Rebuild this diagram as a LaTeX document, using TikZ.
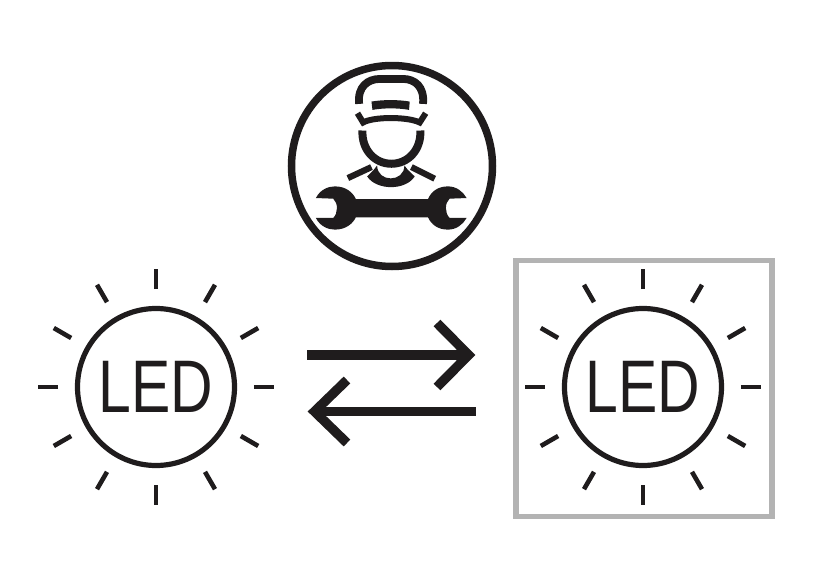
\documentclass[tikz,border=0pt]{standalone}
\usepackage{fontspec}
\setmainfont{Liberation Sans}
\definecolor{musta}{HTML}{1F1C1D}
\definecolor{harmaa}{HTML}{B3B3B3}
\newcommand{\ledtext}{\raisebox{-0.02cm}{\scalebox{0.79}[1]{LED}}}
\tikzset{
	ledlamp/.style={circle,draw=musta,line width=0.52mm,minimum size=1.57cm,inner sep=0pt,text=musta,font=\fontsize{21.2}{24}\selectfont},
	ledray/.style={draw=musta,line width=0.46mm},
	framebox/.style={draw=harmaa,line width=0.55mm,minimum size=2.56cm,inner sep=0pt},
	badge/.style={circle,draw=musta,line width=0.75mm,minimum size=2.01cm,inner sep=0pt},
	flowarrow/.style={draw=musta,line width=0.95mm},
	tool/.style={draw=musta,line width=0.62mm}
}
\begin{document}
\begin{tikzpicture}
	\useasboundingbox (0,0) rectangle (8.16,-5.77);
	\node[framebox] (frame) at (6.44,-3.885) {};
	\node[badge] (badge) at (3.92,-1.66) {};
	\node[ledlamp] (ledleft) at (1.56,-3.87) {\ledtext};
	\node[ledlamp] (ledright) at (6.43,-3.87) {\ledtext};
	\foreach \lamp in {ledleft,ledright}
		\foreach \a in {0,30,...,330}
			\draw[ledray] ([shift={(\a:0.98)}]\lamp.center) -- ([shift={(\a:1.18)}]\lamp.center);
	\coordinate (topstart) at (3.07,-3.55);
	\coordinate (toptip) at (4.686,-3.55);
	\coordinate (topup) at (4.37,-3.23);
	\coordinate (topdown) at (4.37,-3.87);
	\coordinate (lowstart) at (4.76,-4.115);
	\coordinate (lowtip) at (3.145,-4.115);
	\coordinate (lowup) at (3.47,-3.8);
	\coordinate (lowdown) at (3.47,-4.43);
	\draw[flowarrow] (topstart) -- (toptip);
	\draw[flowarrow] (topup) -- (toptip) -- (topdown);
	\draw[flowarrow] (lowstart) -- (lowtip);
	\draw[flowarrow] (lowup) -- (lowtip) -- (lowdown);
	\begin{scope}[shift={(2.8,-0.55)},x=0.003333cm,y=-0.003333cm]
		\draw[tool,line width=0.78mm] (238,147) .. controls (232,95) and (265,72) .. (300,72) -- (370,72) .. controls (405,72) and (435,95) .. (430,147);
		\fill[musta] (275,140) .. controls (310,134) and (355,134) .. (390,140) -- (388,165) .. controls (355,159) and (310,159) .. (278,165) -- cycle;
		\draw[tool,line width=0.6mm] (233,175) -- (250,203) .. controls (280,185) and (385,185) .. (420,203) -- (438,175);
		\draw[tool,line width=0.8mm] (248,227) .. controls (245,285) and (285,327) .. (335,327) .. controls (385,327) and (425,285) .. (422,227);
		\draw[tool] (204,370) -- (275,337);
		\draw[tool] (395,337) -- (465,372);
		\fill[musta] (262,365) .. controls (290,408) and (378,408) .. (405,365) -- (384,345) -- (374,332) .. controls (374,384) and (292,384) .. (292,332) -- (282,345) -- cycle;
		\fill[musta] (108,430) .. controls (120,405) and (145,395) .. (165,395) .. controls (200,395) and (220,415) .. (228,433) -- (445,433) .. controls (455,410) and (475,395) .. (505,395) .. controls (530,395) and (550,410) .. (561,430) -- (510,432) .. controls (495,445) and (495,475) .. (510,490) -- (561,490) .. controls (550,510) and (530,525) .. (505,525) .. controls (475,525) and (455,510) .. (445,488) -- (228,488) .. controls (220,505) and (200,525) .. (165,525) .. controls (145,525) and (120,515) .. (108,490) -- (160,490) .. controls (175,475) and (175,445) .. (160,432) -- cycle;
	\end{scope}
\end{tikzpicture}
\end{document}
